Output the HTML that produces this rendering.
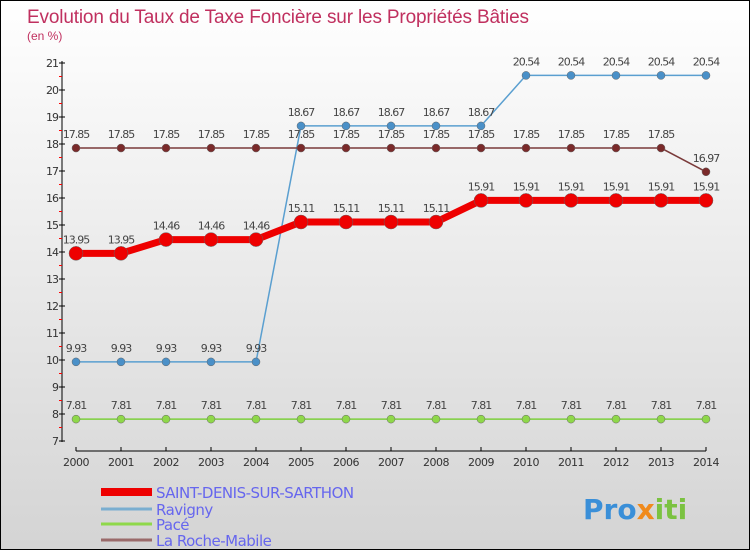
<!DOCTYPE html>
<html><head><meta charset="utf-8"><style>
body{margin:0}
#c{width:748px;height:548px;border:1px solid #000;background:linear-gradient(#fff,#d4d4d4);position:relative;font-family:"DejaVu Sans","Liberation Sans",sans-serif;overflow:hidden}
</style></head><body>
<div id="c">
<svg id="s" width="748" height="548">
<text x="26" y="22" font-size="19" fill="#c0305f" font-family="Liberation Sans, sans-serif" textLength="502">Evolution du Taux de Taxe Foncière sur les Propriétés Bâties</text>
<text x="26" y="39" font-size="12" fill="#c0305f" font-family="Liberation Sans, sans-serif">(en %)</text>
<g id="g"></g>
<text x="582" y="518" font-size="28" font-weight="bold"><tspan fill="#3a8fd8">Pro</tspan><tspan fill="#f08a1c">x</tspan><tspan fill="#7bc241">iti</tspan></text>
</svg></div>
<script>
const years=[2000,2001,2002,2003,2004,2005,2006,2007,2008,2009,2010,2011,2012,2013,2014];
const yTicks=[7,8,9,10,11,12,13,14,15,16,17,18,19,20,21];
const saint=[13.95,13.95,14.46,14.46,14.46,15.11,15.11,15.11,15.11,15.91,15.91,15.91,15.91,15.91,15.91];
const ravigny=[9.93,9.93,9.93,9.93,9.93,18.67,18.67,18.67,18.67,18.67,20.54,20.54,20.54,20.54,20.54];
const pace=[7.81,7.81,7.81,7.81,7.81,7.81,7.81,7.81,7.81,7.81,7.81,7.81,7.81,7.81,7.81];
const roche=[17.85,17.85,17.85,17.85,17.85,17.85,17.85,17.85,17.85,17.85,17.85,17.85,17.85,17.85,16.97];
const names=["SAINT-DENIS-SUR-SARTHON","Ravigny","Pacé","La Roche-Mabile"];
const NS="http://www.w3.org/2000/svg",g=document.getElementById('g');
const X=i=>75+45*i, Y=v=>440-(v-7)*27;
function el(t,a,txt){const e=document.createElementNS(NS,t);for(const k in a)e.setAttribute(k,a[k]);if(txt!==undefined)e.textContent=txt;g.appendChild(e);return e;}
let e=el('line',{x1:61,y1:60,x2:61,y2:441,stroke:'#000'});

e=el('line',{x1:75,y1:450,x2:705,y2:450,stroke:'#000'});

yTicks.forEach(v=>{el('line',{x1:58,y1:Y(v),x2:64,y2:Y(v),stroke:'#000'});
 if(v<21)el('line',{x1:58,y1:Y(v+0.5),x2:61,y2:Y(v+0.5),stroke:'#f00'});
 e=el('text',{x:57,y:Y(v)+4,'font-size':11,fill:'#333','text-anchor':'end','letter-spacing':'-1'},v);
 });
years.forEach((yr,i)=>{el('line',{x1:X(i),y1:446,x2:X(i),y2:450,stroke:'#000'});
 e=el('text',{x:X(i),y:465,'font-size':11,fill:'#333','text-anchor':'middle','letter-spacing':'-0.5'},yr);
 });
const series=[[pace,'#7ccf3c','#8fd84a',1.5,4,'pace'],[ravigny,'#5a9fd0','#4a90c8',1.5,4,'ravigny'],[roche,'#7a3a3a','#7a2a2a',1.5,4,'la-roche-mabile'],[saint,'#ee0000','#ee0000',7,7,'saint-denis']];
series.forEach(([d,c,fc,w,r,n])=>{
 e=el('polyline',{points:d.map((v,i)=>X(i)+','+Y(v)).join(' '),fill:'none',stroke:c,'stroke-width':w});
 
 d.forEach((v,i)=>{e=el('circle',{cx:X(i),cy:Y(v),r:r,fill:fc,stroke:'#666','stroke-width':0.5});
  
  e=el('text',{x:X(i),y:Y(v)-10,'font-size':11,fill:'#444','text-anchor':'middle','letter-spacing':'-1'},String(v));
  });
});
const lc=['#ee0000','#7aaed0','#8fd84a','#9a6a6a'],lw=[8,3,3,3],ly=[491,508,523,539];
names.forEach((n,i)=>{e=el('line',{x1:100,y1:ly[i],x2:151,y2:ly[i],stroke:lc[i],'stroke-width':lw[i]});
 
 e=el('text',{x:155,y:ly[i]+6,'font-size':15,fill:'#6666ee','letter-spacing':'-0.5'},n);
 });
</script>
</body></html>
